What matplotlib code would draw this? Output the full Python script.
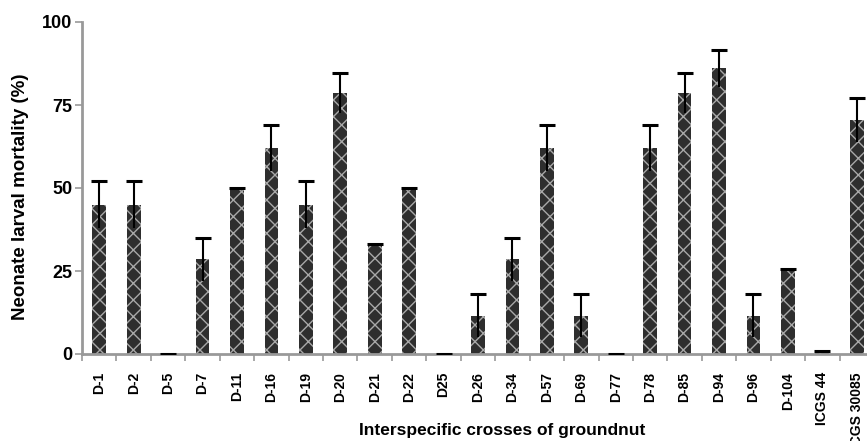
import matplotlib
matplotlib.use("Agg")
import matplotlib.pyplot as plt
import numpy as np

categories = ["D-1", "D-2", "D-5", "D-7", "D-11", "D-16", "D-19", "D-20", "D-21", "D-22",
              "D25", "D-26", "D-34", "D-57", "D-69", "D-77", "D-78", "D-85", "D-94", "D-96",
              "D-104", "ICGS 44", "ICGS 30085"]
mortality = [45, 45, 0, 28.5, 50, 62, 45, 78.5, 33, 50,
             0, 11.5, 28.5, 62, 11.5, 0, 62, 78.5, 86, 11.5,
             25.5, 1, 70.5]
errors = [7, 7, 0, 6.5, 0, 7, 7, 6, 0, 0,
          0, 6.5, 6.5, 7, 6.5, 0, 7, 6, 5.5, 6.5,
          0, 0, 6.5]

plt.rcParams['font.family'] = ['Liberation Sans', 'DejaVu Sans']
plt.rcParams['hatch.linewidth'] = 1.0

fig = plt.figure(figsize=(8.67, 4.41), dpi=100)
ax = fig.add_axes([82/867, 1-354/441, (874-82)/867, (354-22)/441])

x = np.arange(len(categories))
vals = np.array(mortality)
err = np.array(errors)
ax.bar(x, vals, width=0.4, color='#2e2e2e', edgecolor='#a8a8a8',
       linewidth=0, hatch='xx', zorder=2)
ax.errorbar(x, vals, yerr=[err, err], fmt='none', ecolor='black',
            elinewidth=1.5, capsize=0, zorder=3)
ax.plot(x, vals + err, linestyle='none', marker='_', markersize=12,
        markeredgewidth=2.2, color='black', zorder=4)

ax.set_xlim(-0.5, len(categories) - 0.5)
ax.set_ylim(0, 100)
ax.set_yticks([0, 25, 50, 75, 100])
ax.set_yticklabels(['0', '25', '50', '75', '100'], fontsize=13, fontweight='bold')

ax.set_xticks(x)
ax.set_xticklabels(categories, rotation=90, fontsize=10, fontweight='bold')
ax.set_xticks(np.arange(-0.5, len(categories), 1), minor=True)
ax.tick_params(axis='x', which='major', length=0, pad=13)
ax.tick_params(axis='x', which='minor', length=5, width=1.2, color='#999999', direction='out')
ax.tick_params(axis='y', length=5, width=1.2, color='#999999', direction='out', pad=2)

for s in ['top', 'right']:
    ax.spines[s].set_visible(False)
for s in ['left', 'bottom']:
    ax.spines[s].set_color('#999999')
    ax.spines[s].set_linewidth(2)

fig.text(21/867, 1-197/441, 'Neonate larval mortality (%)', fontsize=13.5, fontweight='bold',
         ha='center', va='center', rotation=90)
fig.text(502/867, 1-430/441, 'Interspecific crosses of groundnut', fontsize=12.5,
         fontweight='bold', ha='center', va='center')

fig.savefig('out.png', dpi=100)
